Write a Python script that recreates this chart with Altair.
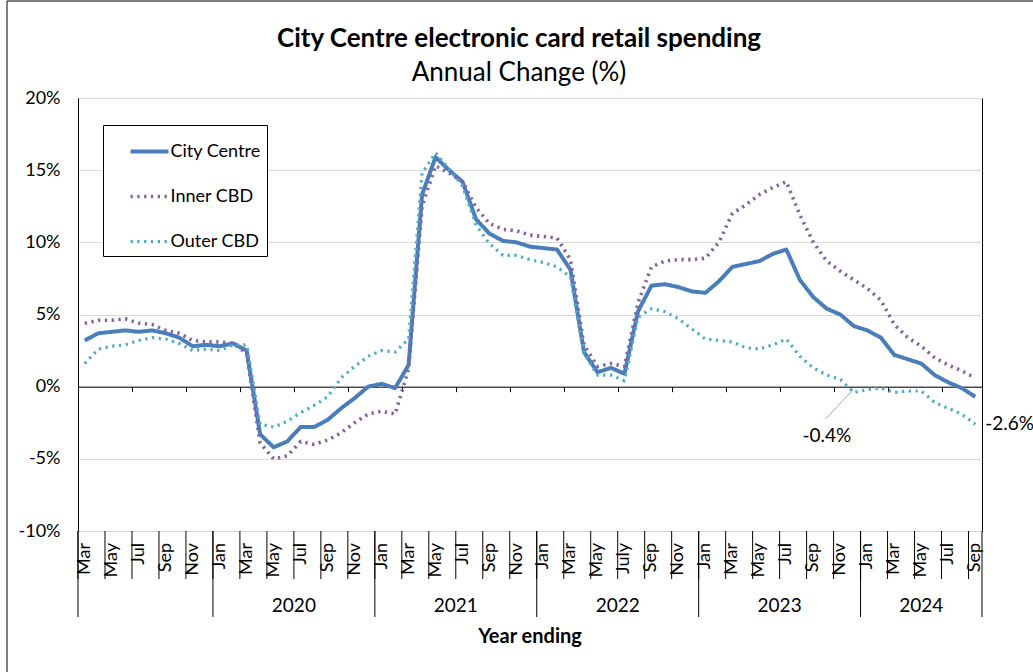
import altair as alt
import pandas as pd

# Year-ending months run from Mar 2019 to Sep 2024, one category per month
year_names = ["", "2020", "2021", "2022", "2023", "2024"]
year_months = [10, 12, 12, 12, 12, 9]

# Every second month carries a label under the axis
month_labels = [
    "Mar", "May", "Jul", "Sep", "Nov",
    "Jan", "Mar", "May", "Jul", "Sep", "Nov",
    "Jan", "Mar", "May", "Jul", "Sep", "Nov",
    "Jan", "Mar", "May", "July", "Sep", "Nov",
    "Jan", "Mar", "May", "Jul", "Sep", "Nov",
    "Jan", "Mar", "May", "Jul", "Sep",
]

series_names = ["City Centre", "Inner CBD", "Outer CBD"]
series_colors = ["#4A7EBB", "#8064A2", "#4BACC6"]

# Annual change (%) in electronic card retail spending
city_centre = [
    3.2, 3.7, 3.8, 3.9, 3.8, 3.9, 3.7, 3.4, 2.8, 2.9,
    2.8, 3.0, 2.5, -3.3, -4.2, -3.8, -2.8, -2.8, -2.3, -1.5, -0.8, 0.0,
    0.2, -0.1, 1.5, 13.3, 15.9, 15.0, 14.2, 11.6, 10.6, 10.1, 10.0, 9.7,
    9.6, 9.5, 8.1, 2.4, 1.0, 1.3, 0.9, 5.2, 7.0, 7.1, 6.9, 6.6,
    6.5, 7.3, 8.3, 8.5, 8.7, 9.2, 9.5, 7.4, 6.2, 5.4, 5.0, 4.2,
    3.9, 3.4, 2.2, 1.9, 1.6, 0.8, 0.3, -0.1, -0.7,
]
inner_cbd = [
    4.4, 4.6, 4.6, 4.7, 4.4, 4.3, 3.9, 3.7, 3.2, 3.1,
    3.1, 3.0, 2.3, -3.9, -5.0, -4.8, -3.8, -4.0, -3.7, -3.2, -2.5, -1.9,
    -1.7, -1.9, 1.2, 12.5, 15.3, 14.8, 14.2, 12.4, 11.3, 10.9, 10.8, 10.5,
    10.4, 10.3, 8.8, 2.9, 1.4, 1.6, 1.4, 5.8, 8.3, 8.7, 8.8, 8.8,
    8.9, 10.0, 12.0, 12.6, 13.3, 13.8, 14.2, 11.9, 10.0, 8.7, 8.0, 7.4,
    6.8, 6.0, 4.3, 3.4, 2.8, 2.0, 1.5, 1.1, 0.6,
]
outer_cbd = [
    1.6, 2.6, 2.8, 2.9, 3.2, 3.4, 3.3, 3.0, 2.5, 2.6,
    2.5, 2.9, 2.9, -2.6, -2.8, -2.4, -1.8, -1.3, -0.7, 0.6, 1.4, 2.1,
    2.5, 2.4, 3.3, 14.8, 16.2, 15.1, 13.9, 11.2, 9.9, 9.1, 9.1, 8.8,
    8.6, 8.3, 7.6, 2.3, 0.8, 0.8, 0.4, 4.8, 5.4, 5.2, 4.7, 4.0,
    3.3, 3.2, 3.1, 2.7, 2.6, 2.9, 3.3, 2.1, 1.3, 0.8, 0.5, -0.4,
    -0.2, -0.1, -0.4, -0.3, -0.3, -1.1, -1.5, -1.9, -2.6,
]

FONT = "Lato"
W, H = 904, 433
n = len(city_centre)
y_lo, y_hi = -10, 20

rows = []
for name, vals in zip(series_names, [city_centre, inner_cbd, outer_cbd]):
    for i, v in enumerate(vals):
        rows.append({"series": name, "pos": i + 0.5, "value": v})
df = pd.DataFrame(rows)

x_scale = alt.Scale(domain=[0, n], nice=False, zero=False)
y_scale = alt.Scale(domain=[y_lo, y_hi], nice=False)

# the month axis line sits on the 0% level of the value scale
zero_offset = H * y_hi / (y_hi - y_lo) - H

legend = alt.Legend(orient="none", legendX=25, legendY=27, title=None)

lines = alt.Chart(df).mark_line(strokeCap="butt", strokeJoin="round").encode(
    x=alt.X(
        "pos:Q", scale=x_scale,
        axis=alt.Axis(orient="bottom", offset=zero_offset, values=list(range(n + 1)),
                      labels=False, tickSize=5, tickColor="black", domainColor="black",
                      grid=False, title=None),
    ),
    y=alt.Y(
        "value:Q", scale=y_scale,
        axis=alt.Axis(values=list(range(y_lo, y_hi + 1, 5)), labelExpr="datum.value + '%'",
                      ticks=False, labelPadding=18, grid=True, gridColor="#D9D9D9",
                      domainColor="black", title=None),
    ),
    color=alt.Color("series:N", scale=alt.Scale(domain=series_names, range=series_colors),
                    legend=legend),
    strokeDash=alt.StrokeDash("series:N",
                              scale=alt.Scale(domain=series_names,
                                              range=[[1, 0], [2.3, 4.5], [2.3, 4.5]]),
                              legend=legend),
    strokeWidth=alt.StrokeWidth("series:N",
                                scale=alt.Scale(domain=series_names, range=[4, 3.2, 3.2]),
                                legend=None),
)

# category separators below the plot: one per labelled pair of months, longer ones per year
bounds = [0]
for m in year_months:
    bounds.append(bounds[-1] + m)
pair_df = pd.DataFrame({"b": list(range(0, n, 2))})
year_df = pd.DataFrame({"b": bounds})

pair_rules = alt.Chart(pair_df).mark_rule(color="black", strokeWidth=1).encode(
    x=alt.X("b:Q", scale=x_scale),
    y=alt.value(H), y2=alt.value(H + 48),
)
year_rules = alt.Chart(year_df).mark_rule(color="black", strokeWidth=1).encode(
    x=alt.X("b:Q", scale=x_scale),
    y=alt.value(H), y2=alt.value(H + 86),
)

month_df = pd.DataFrame({"pos": [2 * k + 0.5 for k in range(len(month_labels))],
                         "label": month_labels})
month_text = alt.Chart(month_df).mark_text(
    angle=270, align="right", baseline="middle", font=FONT, fontSize=18, color="black",
).encode(
    x=alt.X("pos:Q", scale=x_scale),
    y=alt.value(H + 12),
    text="label:N",
)

year_lab_df = pd.DataFrame({
    "mid": [(a + b) / 2 for a, b in zip(bounds[:-1], bounds[1:])],
    "year": year_names,
})
year_text = alt.Chart(year_lab_df).mark_text(
    baseline="middle", font=FONT, fontSize=19, color="black",
).encode(
    x=alt.X("mid:Q", scale=x_scale),
    y=alt.value(H + 75),
    text="year:N",
)

axis_title = alt.Chart(pd.DataFrame({"t": ["Year ending"]})).mark_text(
    baseline="middle", font=FONT, fontSize=20, fontWeight="bold", color="black",
).encode(x=alt.value(W / 2), y=alt.value(H + 106), text="t:N")

# thin frame round the whole chart
FRAME_TOP = -97
frame = alt.Chart(pd.DataFrame({"k": [0]})).mark_rect(
    fill=None, stroke="black", strokeWidth=1,
).encode(x=alt.value(-71), x2=alt.value(W + 80), y=alt.value(FRAME_TOP), y2=alt.value(H + 160))

# value labels for Outer CBD: where it first turns negative, and the latest month
dip_i = 57
end_i = n - 1
dip_df = pd.DataFrame({
    "x": [dip_i + 0.45], "y": [outer_cbd[dip_i] + 0.2],
    "x2": [dip_i - 1.6], "y2": [outer_cbd[dip_i] - 1.85],
})
leader = alt.Chart(dip_df).mark_rule(color="#A6A6A6", strokeWidth=1).encode(
    x=alt.X("x:Q", scale=x_scale), x2="x2:Q",
    y=alt.Y("y:Q", scale=y_scale), y2="y2:Q",
)
lab_df = pd.DataFrame({
    "x": [dip_i - 1.5, end_i + 0.5],
    "y": [outer_cbd[dip_i] - 3.05, outer_cbd[end_i]],
    "t": [f"{outer_cbd[dip_i]:.1f}%", f"{outer_cbd[end_i]:.1f}%"],
})
dip_label = alt.Chart(lab_df.iloc[[0]]).mark_text(
    align="center", baseline="middle", font=FONT, fontSize=19, color="black",
).encode(x=alt.X("x:Q", scale=x_scale),
         y=alt.Y("y:Q", scale=y_scale), text="t:N")
end_label = alt.Chart(lab_df.iloc[[1]]).mark_text(
    align="left", baseline="middle", dx=10, font=FONT, fontSize=19, color="black",
).encode(x=alt.X("x:Q", scale=x_scale),
         y=alt.Y("y:Q", scale=y_scale), text="t:N")

# the title sits above the content bounds, which start at the frame's top edge;
# pull it back down so it lands just above the plot area
title_gap = 12
chart = alt.layer(
    lines, pair_rules, year_rules, month_text, year_text, axis_title,
    leader, dip_label, end_label, frame,
).properties(
    width=W, height=H,
    autosize=alt.AutoSizeParams(type="none"),
    padding={"left": 78, "top": 98, "right": 51, "bottom": 141},
    background="white",
    title=alt.TitleParams(
        text="City Centre electronic card retail spending",
        subtitle="Annual Change (%)",
        anchor="middle", frame="group", dx=-11, offset=FRAME_TOP - 0.5 + title_gap,
        font=FONT, fontSize=26, fontWeight="bold", color="black",
        subtitleFont=FONT, subtitleFontSize=26, subtitleColor="black", subtitlePadding=8,
    ),
).configure_view(
    stroke="black", strokeWidth=1,
).configure_axis(
    labelFont=FONT, labelFontSize=18, labelColor="black",
).configure_legend(
    strokeColor="black", fillColor="white", padding=5.5, cornerRadius=0,
    symbolType="stroke", symbolSize=1444, symbolStrokeWidth=3.5, symbolOffset=20,
    labelFont=FONT, labelFontSize=18, labelColor="black", labelOffset=0,
    rowPadding=15, direction="vertical",
)

chart.save("out.html", embed_options={"renderer": "svg", "actions": False})
